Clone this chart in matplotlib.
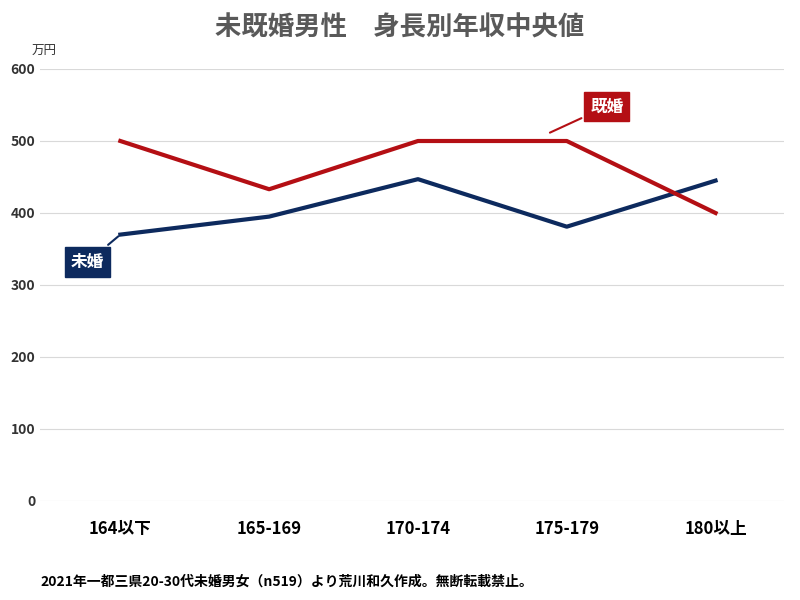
import matplotlib.pyplot as plt

plt.rcParams["font.family"] = "Noto Sans CJK JP"

categories = ["164以下", "165-169", "170-174", "175-179", "180以上"]
unmarried = [370, 395, 447, 381, 445]
married = [500, 433, 500, 500, 400]

navy = "#0d2a5e"
red = "#b40f14"

fig = plt.figure(figsize=(8, 6), dpi=100)
ax = fig.add_axes([0.05, 0.165, 0.93, 0.72])
x = range(len(categories))
ax.plot(x, unmarried, color=navy, lw=3)
ax.plot(x, married, color=red, lw=3)

ax.set_xlim(-0.54, len(categories) - 0.54)
ax.set_ylim(0, 600)
ax.set_yticks(range(0, 601, 100))
ax.grid(axis="y", color="#d9d9d9", lw=0.8)
ax.set_axisbelow(True)
for s in ax.spines.values():
    s.set_visible(False)
ax.tick_params(length=0)
ax.tick_params(axis="y", labelsize=10, labelcolor="#333333")
ax.set_xticks(list(x))
ax.set_xticklabels(categories, fontsize=12, fontweight="bold")
ax.tick_params(axis="x", pad=14)
for lbl in ax.get_yticklabels():
    lbl.set_fontweight("bold")

# callouts
ax.annotate("未婚", xy=(0.0, 370), xytext=(-0.22, 332), color="white",
            fontsize=12, fontweight="bold", ha="center", va="center",
            bbox=dict(boxstyle="square,pad=0.35", fc=navy, ec=navy),
            arrowprops=dict(arrowstyle="-", color=navy, lw=1.5))
ax.annotate("既婚", xy=(2.87, 510), xytext=(3.27, 548), color="white",
            fontsize=12, fontweight="bold", ha="center", va="center",
            bbox=dict(boxstyle="square,pad=0.35", fc=red, ec=red),
            arrowprops=dict(arrowstyle="-", color=red, lw=1.5))

fig.text(0.5, 0.953, "未既婚男性　身長別年収中央値", ha="center", va="center",
         fontsize=19, fontweight="bold", color="#595959")
fig.text(0.04, 0.915, "万円", fontsize=9, color="#333333", va="center")
fig.text(0.05, 0.03, "2021年一都三県20-30代未婚男女（n519）より荒川和久作成。無断転載禁止。",
         fontsize=10, fontweight="bold", va="center")

fig.savefig("out.png")
